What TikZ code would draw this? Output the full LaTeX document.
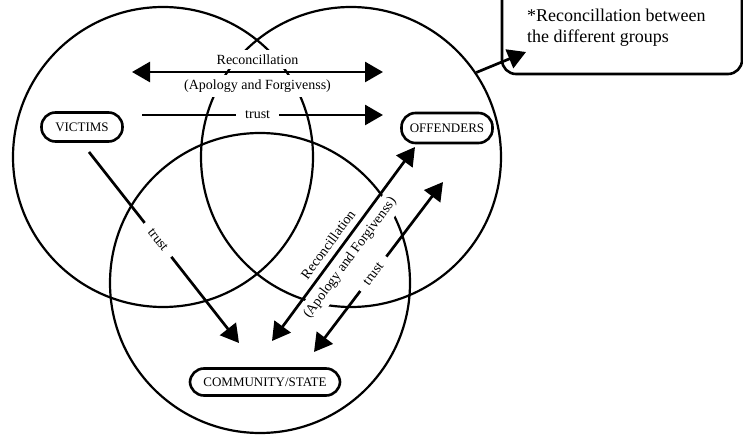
\documentclass[tikz,border=0pt]{standalone}
\usepackage{fontspec}
\setmainfont{Liberation Serif}
\usetikzlibrary{arrows.meta}

\begin{document}
\begin{tikzpicture}[
	x=1pt, y=-1pt,
	ring/.style={
		draw, circle, line width=2.2pt,
		minimum size=300pt, inner sep=0pt
	},
	group/.style={
		draw, fill=white, rounded corners=14pt, line width=2.6pt,
		inner sep=0pt, font=\fontsize{13}{15}\selectfont
	},
	arr/.style={->, >={Triangle[length=18pt, width=20pt]}, line width=2.7pt},
	dbl/.style={arr, <->},
	lbl/.style={fill=white, inner xsep=9pt, inner ysep=4.7pt, font=\fontsize{14}{16}\selectfont},
	notebox/.style={draw, rounded corners=14pt, line width=2.6pt},
	notetext/.style={align=left, inner sep=0pt, font=\fontsize{18}{21}\selectfont}
]

\useasboundingbox (0,0) rectangle (743,435);
\clip (0,0) rectangle (743,435);

\node[ring] (vicring) at (163,157) {};
\node[ring] (offring) at (351,157) {};
\node[ring] (comring) at (260,283) {};

\node[group, minimum width=81pt,  minimum height=29pt] (victims)   at (82,127)  {VICTIMS};
\node[group, minimum width=91pt,  minimum height=30pt] (offenders) at (447,128) {OFFENDERS};
\node[group, minimum width=150pt, minimum height=27pt] (community) at (265,382) {COMMUNITY/STATE};

\coordinate (recleft)  at (132,72);
\coordinate (recright) at (383,72);
\coordinate (trleft)   at (142,115);
\coordinate (trright)  at (383,115);
\coordinate (vicout)   at (89,152);
\coordinate (vicin)    at (239,343);
\coordinate (recbot)   at (272,341);
\coordinate (rectop)   at (415,147);
\coordinate (trbot)    at (314,352);
\coordinate (trtop)    at (443,182);
\coordinate (notetip)  at (526,52);

\draw[dbl] (recleft) -- node[lbl, above=1.3pt] {Reconcillation}
                        node[lbl, below=1.3pt] {(Apology and Forgivenss)} (recright);
\draw[arr] (trleft)  -- node[lbl, pos=.48] {trust} (trright);
\draw[arr] (vicout)  -- node[lbl, sloped, pos=.46] {trust} (vicin);
\draw[dbl] (recbot)  -- node[lbl, sloped, above=1.3pt, pos=.46] {Reconcillation}
                        node[lbl, sloped, below=1.3pt, pos=.47] {(Apology and Forgivenss)} (rectop);
\draw[dbl] (trbot)   -- node[lbl, sloped, pos=.46] {trust} (trtop);

% side note, cut off at the top
\draw[notebox] (502,-30) rectangle (742,74);
\node[notetext, anchor=north west] (note) at (527,9) {*Reconcillation between\\the different groups};
\draw[arr] (offring.34) -- (notetip);

\end{tikzpicture}
\end{document}
